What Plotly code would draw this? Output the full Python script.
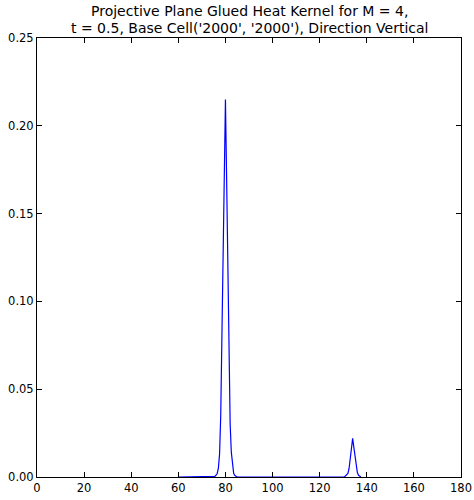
import plotly.graph_objects as go

# Peak near x = 80
x_peak1 = [60, 75, 75.5, 76, 76.5, 77, 77.5, 78, 78.5, 79, 79.5, 80, 80.5, 81, 81.5, 82, 82.5, 83, 83.5, 84, 84.5, 85]
y_peak1 = [0, 0, 0.0003, 0.001, 0.002, 0.005, 0.013, 0.035, 0.075, 0.12, 0.167, 0.215, 0.17, 0.12, 0.07, 0.03, 0.014, 0.006, 0.002, 0.0008, 0.0002, 0]

# Peak near x = 134
x_peak2 = [130.5, 131, 131.5, 132, 132.5, 133, 133.5, 134, 134.5, 135, 135.5, 136, 136.5, 137, 137.5]
y_peak2 = [0, 0.0005, 0.001, 0.002, 0.005, 0.011, 0.017, 0.022, 0.017, 0.011, 0.005, 0.0025, 0.001, 0.0003, 0]

x_vals = x_peak1 + x_peak2
y_vals = y_peak1 + y_peak2

x_ticks = [0, 20, 40, 60, 80, 100, 120, 140, 160, 180]
y_ticks = [0.00, 0.05, 0.10, 0.15, 0.20, 0.25]

title_lines = ["Projective Plane Glued Heat Kernel for M = 4,",
               "t = 0.5, Base Cell('2000', '2000'), Direction Vertical"]

fig = go.Figure()
fig.add_trace(go.Scatter(x=x_vals, y=y_vals, mode="lines",
                         line=dict(color="#0000ff", width=1.2),
                         showlegend=False, hoverinfo="skip"))

axis_common = dict(showgrid=False, zeroline=False, showline=True, linecolor="black",
                   linewidth=1, ticks="inside", ticklen=5, tickcolor="black",
                   mirror="allticks", automargin=False,
                   tickfont=dict(family="DejaVu Sans", size=11.5, color="black"))

fig.update_layout(
    width=474, height=500,
    margin=dict(l=37, r=13, t=38, b=23),
    paper_bgcolor="white", plot_bgcolor="white",
    xaxis=dict(range=[0, 180], tickvals=x_ticks, ticktext=[str(v) for v in x_ticks], **axis_common),
    yaxis=dict(range=[0, 0.25], tickvals=y_ticks, ticktext=[f"{v:.2f}" for v in y_ticks], **axis_common),
)

for line_text, shift in zip(title_lines, [17, 0]):
    fig.add_annotation(text=line_text, xref="paper", yref="paper", x=0.5, y=1,
                       xanchor="center", yanchor="bottom", yshift=shift, showarrow=False,
                       font=dict(family="DejaVu Sans", size=14, color="black"))

fig.write_html("out.html", config={"displayModeBar": False},
               post_script="document.body.style.margin='0';")
